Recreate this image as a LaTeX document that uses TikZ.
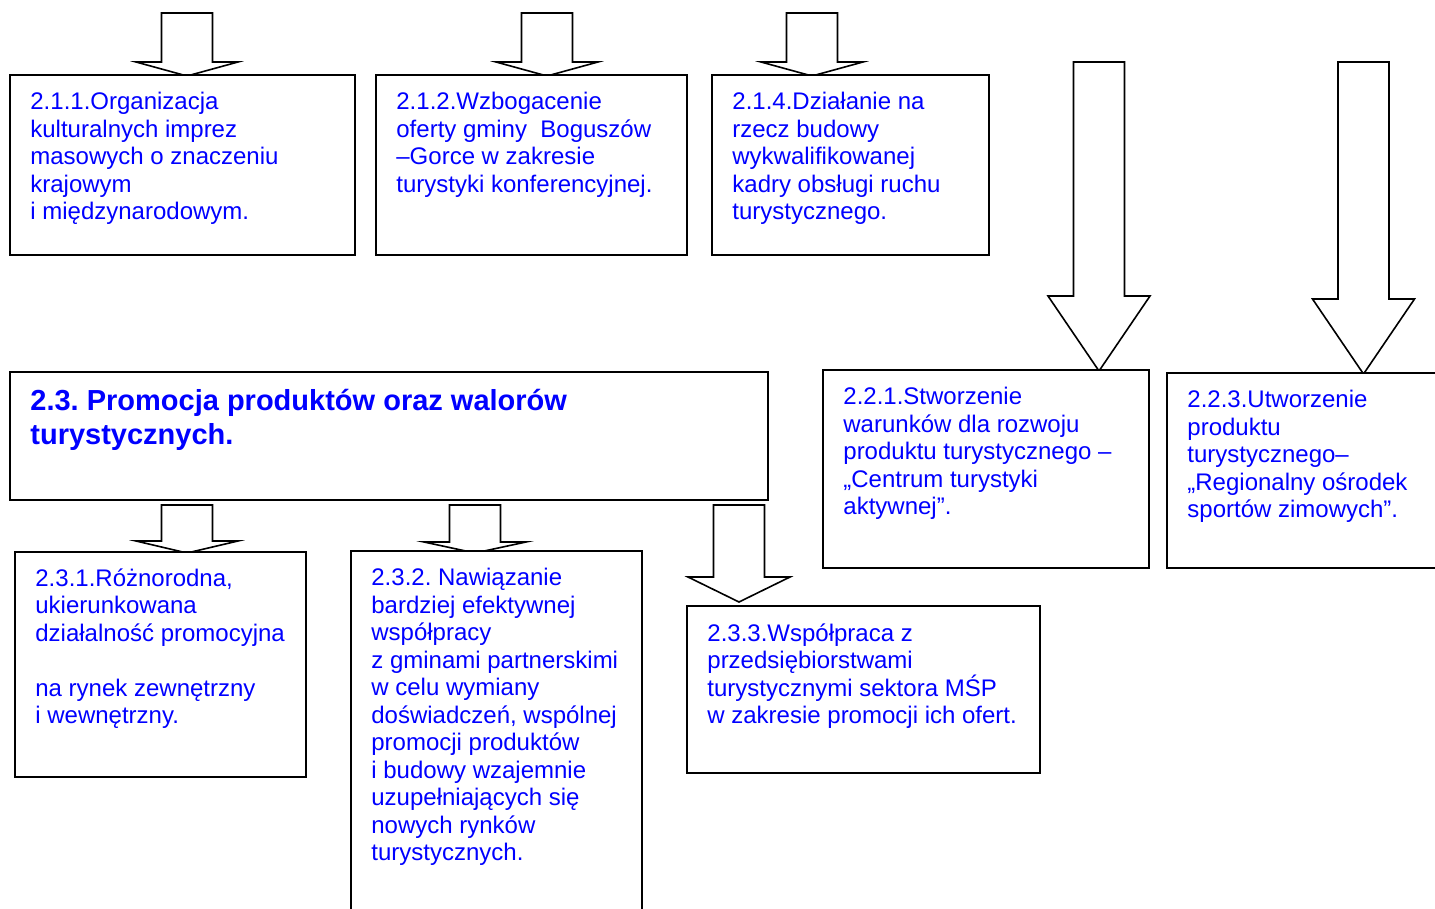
\documentclass[tikz,border=0pt]{standalone}
\usepackage{fontspec}
\setmainfont{Liberation Sans}
\usepackage{tikz}
\usepackage{xcolor}
\definecolor{txtc}{HTML}{0000FF}
\definecolor{linec}{HTML}{000000}
\frenchspacing

% block arrow pointing down: centre x, top y, head base y, tip y
\newcommand{\blockarr}[4]{%
  \draw[barrow] (#1-25.5,#2) -- (#1+25.5,#2) -- (#1+25.5,#3) -- (#1+51,#3)
    -- (#1,#4) -- (#1-51,#3) -- (#1-25.5,#3) -- cycle;}

\begin{document}
\begin{tikzpicture}[x=0.5pt, y=-0.5pt]
  \tikzset{box/.style={draw=linec, fill=white, line width=1pt},
           barrow/.style={draw=linec, fill=white, line width=0.8pt, line join=miter},
           txt/.style={anchor=north west, inner sep=0pt, align=left, text=txtc,
                       font=\fontsize{12}{13.75}\selectfont, execute at begin node=\strut},
           head/.style={txt, font=\fontsize{14.5}{17}\selectfont\bfseries}}
  \useasboundingbox (0,0) rectangle (1435,909);

  % arrows into the top row
  \blockarr{187}{13}{62}{76}
  \blockarr{547}{13}{62}{76}
  \blockarr{812}{13}{62}{76}
  % long arrows on the right
  \blockarr{1099}{62}{296}{371}
  \blockarr{1363.5}{62}{299}{374}
  % arrows below 2.3
  \blockarr{187}{505}{541}{553}
  \blockarr{475}{505}{542}{553}
  \blockarr{739}{505}{577}{602}

  % Row 1 — 2.1.x
  \draw[box] (10,75) rectangle (355,255);
  \node[txt] (t211) at (30,92) {2.1.1.Organizacja\\kulturalnych imprez\\masowych o znaczeniu\\krajowym\\i międzynarodowym.};
  \draw[box] (376,75) rectangle (687,255);
  \node[txt] (t212) at (396,92) {2.1.2.Wzbogacenie\\oferty gminy\ \ Boguszów\\–Gorce w zakresie\\turystyki konferencyjnej.};
  \draw[box] (712,75) rectangle (989,255);
  \node[txt] (t214) at (732,92) {2.1.4.Działanie na\\rzecz budowy\\wykwalifikowanej\\kadry obsługi ruchu\\turystycznego.};

  % Row 2 — 2.3 and 2.2.x
  \draw[box] (10,372) rectangle (768,500);
  \node[head] (t23) at (30,389) {2.3. Promocja produktów oraz walorów\\turystycznych.};
  \draw[box] (823,370) rectangle (1149,568);
  \node[txt] (t221) at (843,387) {2.2.1.Stworzenie\\warunków dla rozwoju\\produktu turystycznego –\\„Centrum turystyki\\aktywnej”.};
  \draw[box] (1167,373) rectangle (1440,568);
  \node[txt] (t223) at (1187,390) {2.2.3.Utworzenie\\produktu\\turystycznego–\\„Regionalny ośrodek\\sportów zimowych”.};

  % Row 3 — 2.3.x
  \draw[box] (15,552) rectangle (306,777);
  \node[txt] (t231) at (35,568) {2.3.1.Różnorodna,\\ukierunkowana\\działalność promocyjna\\~\\na rynek zewnętrzny\\i wewnętrzny.};
  \draw[box] (351,551) rectangle (642,920);
  \node[txt] (t232) at (371,568) {2.3.2. Nawiązanie\\bardziej efektywnej\\współpracy\\z gminami partnerskimi\\w celu wymiany\\doświadczeń, wspólnej\\promocji produktów\\i budowy wzajemnie\\uzupełniających się\\nowych rynków\\turystycznych.};
  \draw[box] (687,606) rectangle (1040,773);
  \node[txt] (t233) at (707,623) {2.3.3.Współpraca z\\przedsiębiorstwami\\turystycznymi sektora MŚP\\w zakresie promocji ich ofert.};
\end{tikzpicture}
\end{document}
